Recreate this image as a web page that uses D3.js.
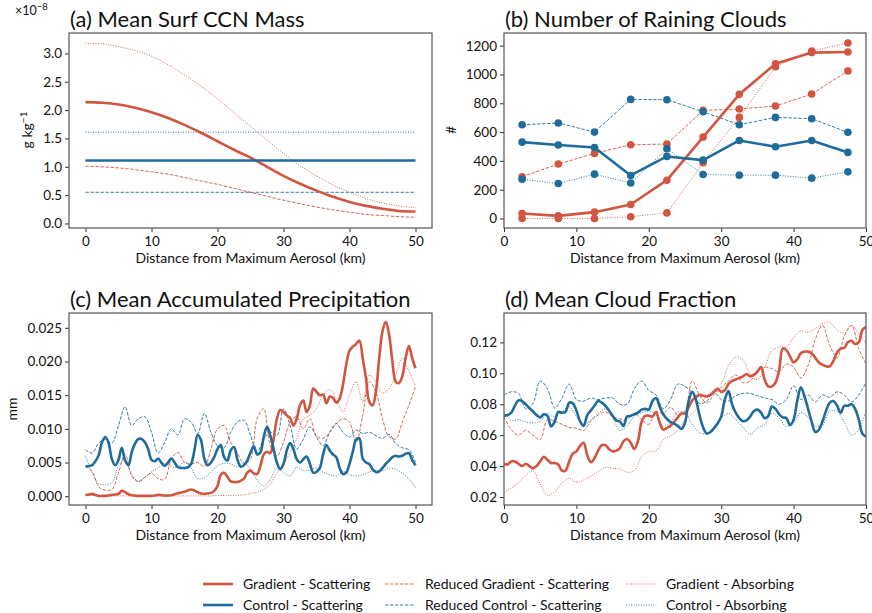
<!DOCTYPE html>
<html>
<head>
<meta charset="utf-8">
<script src="https://cdn.jsdelivr.net/npm/d3@7"></script>
<style>
  body { margin: 0; background: #fff; }
  svg { font-family: Lato, "Noto Sans", sans-serif; }
</style>
</head>
<body>
<svg id="chart" width="872" height="613"></svg>
<script>
const red = '#d1553f'
const blue = '#1f6b9a'

// (a) mean surface CCN mass, units of 1e-8 g/kg
const distA = [0, 2.5, 5, 7.5, 10, 12.5, 15, 17.5, 20, 22.5, 25, 27.5, 30, 32.5, 35, 37.5, 40, 42.5, 45, 47.5, 50]
const distAEnds = [0, 50]
const ccnGradScat = [2.14, 2.13, 2.10, 2.04, 1.96, 1.86, 1.74, 1.60, 1.45, 1.30, 1.16, 1.00, 0.84, 0.70, 0.58, 0.47, 0.38, 0.31, 0.26, 0.22, 0.21]
const ccnRedGradScat = [1.01, 1.00, 0.98, 0.95, 0.91, 0.87, 0.81, 0.75, 0.69, 0.62, 0.55, 0.48, 0.41, 0.35, 0.29, 0.24, 0.20, 0.16, 0.14, 0.12, 0.11]
const ccnGradAbs = [3.18, 3.17, 3.12, 3.05, 2.95, 2.80, 2.62, 2.42, 2.20, 1.95, 1.72, 1.47, 1.24, 1.02, 0.84, 0.68, 0.55, 0.44, 0.36, 0.31, 0.28]
const ccnCtrlScat = [1.11, 1.11]
const ccnRedCtrlScat = [0.55, 0.55]
const ccnCtrlAbs = [1.61, 1.61]

// (b) number of raining clouds per 5 km bin
const binCenters = [2.5, 7.5, 12.5, 17.5, 22.5, 27.5, 32.5, 37.5, 42.5, 47.5]
const rainGradScat = [35, 18, 44, 97, 266, 565, 862, 1075, 1152, 1156]
const rainCtrlScat = [530, 510, 493, 299, 431, 405, 542, 498, 542, 459]
const rainRedGradScat = [290, 378, 452, 512, 517, 751, 760, 781, 864, 1024]
const rainRedCtrlScat = [651, 663, 600, 827, 825, 741, 651, 702, 693, 598]
const rainGradAbs = [0, 0, 0, 12, 39, 387, 702, 1054, 1163, 1219]
const rainCtrlAbs = [273, 243, 308, 246, 484, 306, 301, 301, 280, 324]

// (c) mean accumulated precipitation, units of 1e-3 mm
const distHalf = d3.range(0, 50.01, 0.5)
const distOne = d3.range(0, 50.01, 1)
const precipGradScat = [
  0.2, 0.25, 0.35, 0.2, 0.05, 0.05, 0.05, 0.1, 0.2, 0.25,
  0.35, 0.8, 0.6, 0.3, 0.15, 0.1, 0.05, 0.05, 0.05, 0.05,
  0.05, 0.1, 0.2, 0.15, 0.1, 0.1, 0.15, 0.3, 0.45, 0.55,
  0.65, 0.85, 1.0, 0.85, 0.6, 0.4, 0.35, 0.4, 0.5, 0.8,
  1.5, 3.2, 3.5, 2.9, 2.2, 2.1, 2.1, 2.3, 2.6, 3.5,
  3.8, 3.4, 3.3, 4.5, 6.2, 6.6, 6.4, 8.5, 11.5, 12.8,
  12.5, 12.0, 11.6, 10.5, 11.5, 13.5, 14.2, 12.5, 13.5, 16.0,
  15.5, 15.0, 15.1, 13.8, 14.8, 14.6, 13.9, 14.5, 16.5, 19.5,
  21.6, 22.2, 22.6, 23.1, 20.5, 17.5, 14.0, 13.5, 15.5, 20.5,
  24.5, 25.9, 24.0, 20.0, 17.0, 16.8, 17.8, 20.5, 22.3, 20.5,
  19.0]
const precipCtrlScat = [
  4.4, 4.5, 4.6, 5.2, 6.1, 8.0, 8.8, 7.9, 5.5, 4.6,
  5.4, 7.2, 5.3, 4.6, 6.5, 7.8, 8.5, 8.5, 8.0, 7.0,
  5.4, 5.2, 5.6, 5.0, 4.5, 5.0, 5.6, 5.0, 4.3, 4.2,
  4.2, 4.3, 4.8, 6.8, 9.1, 8.3, 5.6, 4.6, 5.0, 5.8,
  7.0, 7.6, 5.8, 5.3, 6.8, 7.3, 5.5, 4.4, 4.6, 5.3,
  6.5, 7.4, 6.2, 6.5, 8.8, 10.3, 9.0, 7.0, 5.0, 4.0,
  4.8, 6.8, 7.9, 7.0, 5.5, 5.0, 5.5, 5.9, 4.8, 3.5,
  3.6, 4.2, 6.2, 7.6, 6.8, 6.2, 5.8, 4.2, 3.3, 3.5,
  4.8, 6.6, 8.4, 8.6, 5.6, 5.0, 4.8, 4.0, 3.6, 3.7,
  4.2, 4.8, 5.3, 5.8, 6.0, 5.9, 6.0, 6.3, 6.4, 5.4,
  4.6]
const precipRedGradScat = [
  4.4, 3.7, 1.4, 0.9, 1.0, 3.5, 6.2, 3.0, 2.2, 2.8,
  3.4, 2.6, 2.5, 5.5, 6.5, 5.0, 4.8, 5.0, 4.4, 7.0,
  10.0, 10.5, 8.0, 6.5, 4.8, 5.5, 11.5, 13.0, 7.5, 6.0,
  8.0, 11.0, 11.8, 10.0, 11.5, 9.0, 8.6, 9.5, 10.8, 11.5,
  11.0, 8.0, 12.0, 17.0, 15.5, 11.5, 8.8, 8.5, 11.0, 13.5,
  16.3]
const precipRedCtrlScat = [
  6.9, 6.4, 7.9, 8.4, 7.9, 10.5, 13.3, 10.5, 11.5, 11.8,
  9.5, 6.4, 8.0, 10.0, 9.1, 11.5, 11.0, 9.3, 12.3, 9.5,
  7.5, 7.2, 9.5, 11.0, 11.3, 9.0, 6.5, 8.5, 9.5, 9.0,
  13.0, 10.5, 7.0, 8.5, 10.3, 8.8, 7.5, 9.5, 10.8, 9.5,
  8.8, 9.8, 9.3, 9.5, 9.0, 8.6, 9.2, 7.8, 7.2, 6.9,
  5.1]
const precipGradAbs = [
  0.1, 0.1, 0.05, 0.05, 0.05, 0.05, 0.05, 0.05, 0.05, 0.05,
  0.05, 0.05, 0.05, 0.05, 0.05, 0.05, 0.05, 0.05, 0.05, 0.05,
  0.1, 0.1, 0.1, 0.15, 0.2, 0.4, 0.6, 1.0, 1.8, 3.5,
  4.8, 6.5, 8.5, 11.5, 12.0, 13.0, 15.0, 15.8, 14.5, 12.5,
  15.0, 17.0, 14.0, 18.0, 17.0, 15.3, 16.0, 18.0, 20.5, 18.5,
  16.5]
const precipCtrlAbs = [
  6.0, 3.5, 1.9, 1.7, 2.0, 4.5, 5.5, 3.2, 2.2, 2.8,
  3.6, 4.2, 4.8, 4.4, 4.3, 5.1, 4.2, 2.6, 2.8, 3.6,
  4.5, 4.9, 4.8, 4.4, 5.0, 4.0, 2.4, 1.5, 2.5, 4.2,
  3.5, 3.0, 4.3, 3.8, 3.9, 4.2, 3.6, 3.2, 3.0, 3.7,
  3.2, 3.0, 3.2, 3.6, 3.8, 3.8, 4.2, 4.0, 3.4, 2.6,
  1.3]

// (d) mean cloud fraction, units of 1e-3
const cloudGradScat = [
  41.5, 41, 43, 43, 41.5, 40, 41.5, 40, 38.5, 40,
  43, 46, 44, 42, 42, 41, 37, 37, 43, 48,
  49.5, 53, 55, 47, 42.5, 45, 50, 53.5, 53.5, 51,
  49.5, 50, 51.5, 56, 57.5, 55, 51, 56, 68.5, 72.5,
  72.5, 72, 75, 68, 63.5, 64.5, 66, 68.5, 71.5, 74,
  74, 78, 82.5, 84.5, 86, 85.5, 85, 86, 88, 90,
  88, 89, 93, 95, 96, 97, 98, 99.5, 98, 99,
  101, 104, 96, 91.5, 91.5, 94, 102, 116, 115, 111,
  107, 109, 113, 114, 114, 113, 110, 107, 105.5, 104.5,
  104.5, 108, 113.5, 116, 116.5, 120, 121, 119, 120, 128,
  130]
const cloudCtrlScat = [
  72.5, 73, 74.5, 79, 82.5, 82, 80, 77.5, 75.3, 73,
  71.5, 73.5, 72.5, 65.6, 68.8, 75, 74.5, 75, 81, 80.6,
  76, 69, 66, 73, 76, 79, 82, 81, 79, 76,
  72.5, 69.5, 68.8, 66, 72, 72.5, 73.5, 74.6, 76.5, 77,
  76.5, 82, 84, 78.5, 73.5, 70.5, 68.5, 67.5, 66, 64,
  68, 82, 88, 83, 73, 65, 61, 62, 64.5, 67.5,
  72, 83, 88.5, 80, 74.5, 71, 69, 69.5, 72, 75.5,
  76.5, 74.5, 71, 72.5, 78.5, 77, 73.5, 71.5, 71, 66.5,
  70, 82, 91, 85, 77, 68.5, 62, 63.5, 69, 76,
  81, 82, 79, 74.5, 79, 79, 80, 77, 70, 61,
  59]
const cloudRedGradScat = [
  72, 63.5, 60, 63, 60, 57, 70, 69, 67, 65,
  64.5, 63, 69, 73, 75, 72, 70.5, 70, 74, 70,
  67, 75, 74, 78, 73, 76, 95, 86, 81, 86,
  91, 95, 99, 94, 95, 101, 104, 103, 101, 106,
  104, 97, 105, 122, 131, 118, 110, 124, 131, 116,
  106]
const cloudRedCtrlScat = [
  86, 88, 87, 77, 80.5, 95, 90, 77.5, 84, 93,
  83, 82, 84, 83, 84, 84, 80, 80, 90, 95,
  89, 86, 77, 83, 93, 91.5, 87.5, 80.5, 82, 88,
  83, 82, 85.5, 87, 87, 85.5, 84, 83, 80, 83,
  92, 83, 86, 81.5, 86, 84.5, 88, 86, 81.5, 86,
  94]
const cloudGradAbs = [
  22.6, 26, 29, 34, 37, 28.5, 21, 23.5, 29, 32,
  29.5, 31, 33.5, 36.5, 39, 38.5, 38, 36, 37, 46,
  49.5, 50, 57, 59.5, 63, 70, 74, 79.5, 85, 89,
  93, 105, 110.5, 108.6, 99.5, 96, 104, 114.5, 117, 117,
  123, 127.5, 126.5, 129, 132, 133, 128, 126, 131, 126,
  119]
const cloudCtrlAbs = [
  75, 69.5, 70, 68.5, 68, 69, 74, 72, 75, 78.5,
  72, 66.5, 70, 74, 77, 72, 63, 66, 72, 74.5,
  75.5, 73, 66, 68, 75, 74, 67, 61.5, 61, 63.5,
  71, 74, 70, 65, 60.5, 64.5, 67, 74, 71, 65.5,
  68, 74.5, 71.5, 66, 66.5, 75.5, 75.5, 68.5, 60, 63.5,
  76]

const legendLabels = ['Gradient - Scattering', 'Control - Scattering',
  'Reduced Gradient - Scattering', 'Reduced Control - Scattering',
  'Gradient - Absorbing', 'Control - Absorbing']

const styles = {
  gradScat:    { color: red,  width: 2.6, dash: null },
  ctrlScat:    { color: blue, width: 2.6, dash: null },
  redGradScat: { color: red,  width: 0.9, dash: '3.4,1.6' },
  redCtrlScat: { color: blue, width: 0.9, dash: '3.4,1.6' },
  gradAbs:     { color: red,  width: 0.9, dash: '1,1.5' },
  ctrlAbs:     { color: blue, width: 0.9, dash: '1,1.5' }
}

const svg = d3.select('#chart')
let clipId = 0

function makePanel(p) {
  const g = svg.append('g')
  const x = d3.scaleLinear().domain(p.xDomain).range([p.left, p.right])
  const y = d3.scaleLinear().domain(p.yDomain).range([p.bottom, p.top])

  const xa = g.append('g')
    .attr('transform', 'translate(0,' + p.bottom + ')')
    .call(d3.axisBottom(x).tickValues([0, 10, 20, 30, 40, 50]).tickSize(4).tickPadding(4).tickSizeOuter(0))
  const ya = g.append('g')
    .attr('transform', 'translate(' + p.left + ',0)')
    .call(d3.axisLeft(y).tickValues(p.yTicks).tickFormat(p.yFmt).tickSize(4).tickPadding(3).tickSizeOuter(0))
  for (const a of [xa, ya]) {
    a.select('.domain').remove()
    a.selectAll('line').attr('stroke', '#333').attr('stroke-width', 1)
    a.selectAll('text').attr('fill', '#111').style('font-size', '13.5px').style('font-family', 'Lato, sans-serif')
  }

  g.append('text')
    .attr('x', (p.left + p.right) / 2).attr('y', p.bottom + 35)
    .attr('text-anchor', 'middle').attr('fill', '#111')
    .style('font-size', '14px')
    .text('Distance from Maximum Aerosol (km)')

  g.append('text')
    .attr('x', p.left + 1).attr('y', p.top - 6)
    .attr('fill', '#111').style('font-size', '22px')
    .text(p.title)

  const id = 'clip' + (clipId++)
  g.append('clipPath').attr('id', id).append('rect')
    .attr('x', p.left).attr('y', p.top).attr('width', p.right - p.left).attr('height', p.bottom - p.top)
  const plot = g.append('g').attr('clip-path', 'url(#' + id + ')')

  g.append('rect')
    .attr('x', p.left).attr('y', p.top).attr('width', p.right - p.left).attr('height', p.bottom - p.top)
    .attr('fill', 'none').attr('stroke', '#555').attr('stroke-width', 1.2)

  return { g, plot, x, y }
}

function drawLine(panel, xs, ys, st, curve) {
  const line = d3.line()
    .x(d => panel.x(d[0]))
    .y(d => panel.y(d[1]))
    .curve(curve)
  panel.plot.append('path')
    .datum(d3.zip(xs, ys))
    .attr('d', line)
    .attr('fill', 'none')
    .attr('stroke', st.color)
    .attr('stroke-width', st.width)
    .attr('stroke-dasharray', st.dash)
    .attr('stroke-linejoin', 'round')
}

function drawDots(panel, xs, ys, st) {
  panel.plot.append('g').selectAll('circle')
    .data(d3.zip(xs, ys))
    .enter().append('circle')
    .attr('cx', d => panel.x(d[0]))
    .attr('cy', d => panel.y(d[1]))
    .attr('r', 3.8)
    .attr('fill', st.color)
}

// (a)
const pa = makePanel({
  left: 69, right: 432, top: 33, bottom: 228,
  xDomain: [-2.5, 52.5], yDomain: [-0.08, 3.36],
  yTicks: [0, 0.5, 1, 1.5, 2, 2.5, 3], yFmt: d3.format('.1f'),
  title: '(a) Mean Surf CCN Mass'
})
const smooth = d3.curveMonotoneX
drawLine(pa, distA, ccnRedGradScat, styles.redGradScat, smooth)
drawLine(pa, distAEnds, ccnRedCtrlScat, styles.redCtrlScat, smooth)
drawLine(pa, distA, ccnGradAbs, styles.gradAbs, smooth)
drawLine(pa, distAEnds, ccnCtrlAbs, styles.ctrlAbs, smooth)
drawLine(pa, distA, ccnGradScat, styles.gradScat, smooth)
drawLine(pa, distAEnds, ccnCtrlScat, styles.ctrlScat, smooth)

const ylA = pa.g.append('text')
  .attr('transform', 'translate(32,130) rotate(-90)')
  .attr('text-anchor', 'middle').attr('fill', '#111').style('font-size', '14px')
ylA.append('tspan').text('g kg')
ylA.append('tspan').attr('dy', -5).style('font-size', '10px').text('\u22121')

const expo = pa.g.append('text').attr('x', 15).attr('y', 15).attr('fill', '#111').style('font-size', '12.5px')
expo.append('tspan').text('\u00d710')
expo.append('tspan').attr('dy', -5).style('font-size', '9.5px').text('\u22128')

// (b)
const pb = makePanel({
  left: 504, right: 866, top: 33, bottom: 228,
  xDomain: [0, 50], yDomain: [-66, 1288],
  yTicks: [0, 200, 400, 600, 800, 1000, 1200], yFmt: d3.format('d'),
  title: '(b) Number of Raining Clouds'
})
const bSeries = [
  [rainRedGradScat, styles.redGradScat],
  [rainRedCtrlScat, styles.redCtrlScat],
  [rainGradAbs, styles.gradAbs],
  [rainCtrlAbs, styles.ctrlAbs],
  [rainGradScat, styles.gradScat],
  [rainCtrlScat, styles.ctrlScat]
]
for (const [vals, st] of bSeries) {
  drawLine(pb, binCenters, vals, st, d3.curveLinear)
  drawDots(pb, binCenters, vals, st)
}
pb.g.append('text')
  .attr('transform', 'translate(456,130) rotate(-90)')
  .attr('text-anchor', 'middle').attr('fill', '#111').style('font-size', '14px')
  .text('#')

// (c)
const pc = makePanel({
  left: 69, right: 432, top: 313, bottom: 505,
  xDomain: [-2.5, 52.5], yDomain: [-1.3, 27.2],
  yTicks: [0, 5, 10, 15, 20, 25], yFmt: d => d3.format('.3f')(d / 1000),
  title: '(c) Mean Accumulated Precipitation'
})
const wiggle = d3.curveCatmullRom.alpha(0.5)
drawLine(pc, distOne, precipRedGradScat, styles.redGradScat, wiggle)
drawLine(pc, distOne, precipRedCtrlScat, styles.redCtrlScat, wiggle)
drawLine(pc, distOne, precipGradAbs, styles.gradAbs, wiggle)
drawLine(pc, distOne, precipCtrlAbs, styles.ctrlAbs, wiggle)
drawLine(pc, distHalf, precipGradScat, styles.gradScat, wiggle)
drawLine(pc, distHalf, precipCtrlScat, styles.ctrlScat, wiggle)
pc.g.append('text')
  .attr('transform', 'translate(17,409) rotate(-90)')
  .attr('text-anchor', 'middle').attr('fill', '#111').style('font-size', '14px')
  .text('mm')

// (d)
const pd = makePanel({
  left: 504, right: 866, top: 313, bottom: 505,
  xDomain: [0, 50], yDomain: [14.8, 139],
  yTicks: [20, 40, 60, 80, 100, 120], yFmt: d => d3.format('.2f')(d / 1000),
  title: '(d) Mean Cloud Fraction'
})
drawLine(pd, distOne, cloudRedGradScat, styles.redGradScat, wiggle)
drawLine(pd, distOne, cloudRedCtrlScat, styles.redCtrlScat, wiggle)
drawLine(pd, distOne, cloudGradAbs, styles.gradAbs, wiggle)
drawLine(pd, distOne, cloudCtrlAbs, styles.ctrlAbs, wiggle)
drawLine(pd, distHalf, cloudGradScat, styles.gradScat, wiggle)
drawLine(pd, distHalf, cloudCtrlScat, styles.ctrlScat, wiggle)

// legend, three columns of two rows
const legendOrder = ['gradScat', 'ctrlScat', 'redGradScat', 'redCtrlScat', 'gradAbs', 'ctrlAbs']
const colX = [203, 385, 626]
const rowY = [584, 605]
const legend = svg.append('g')
legendOrder.forEach((key, i) => {
  const st = styles[key]
  const cx = colX[Math.floor(i / 2)]
  const cy = rowY[i % 2]
  legend.append('line')
    .attr('x1', cx).attr('x2', cx + 30).attr('y1', cy).attr('y2', cy)
    .attr('stroke', st.color).attr('stroke-width', st.width)
    .attr('stroke-dasharray', st.dash)
  legend.append('text')
    .attr('x', cx + 40).attr('y', cy + 5)
    .attr('fill', '#111').style('font-size', '14px')
    .text(legendLabels[i])
})
</script>
</body>
</html>
